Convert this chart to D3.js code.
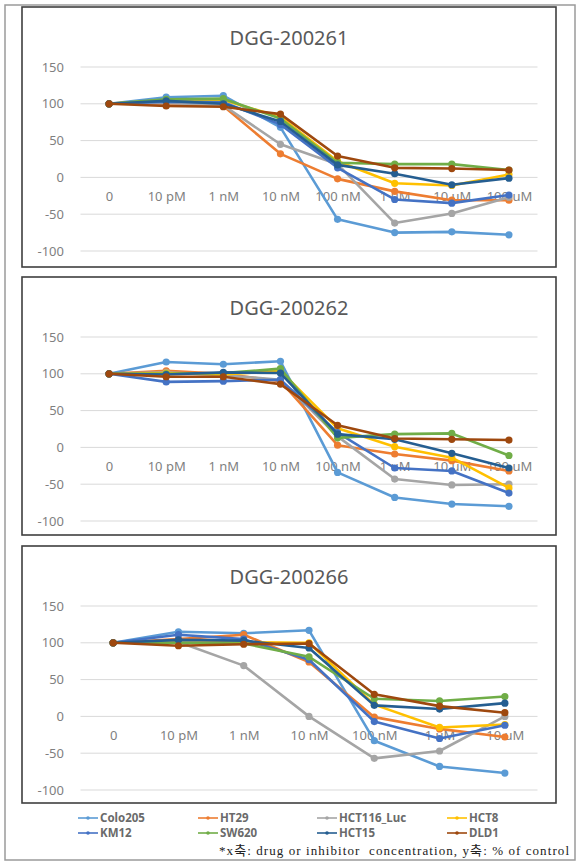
<!DOCTYPE html>
<html><head><meta charset="utf-8">
<script src="https://cdn.jsdelivr.net/npm/d3@7"></script>
<style>
html,body{margin:0;padding:0;background:#fff;}
svg{display:block;}
</style></head>
<body>
<svg id="chart" width="583" height="867"></svg>
<script>
// ---------- data ----------
const seriesNames = ["Colo205","HT29","HCT116_Luc","HCT8","KM12","SW620","HCT15","DLD1"];
const seriesColors = ["#5B9BD5","#ED7D31","#A5A5A5","#FFC000","#4472C4","#70AD47","#255E91","#9E480E"];

const catsA = ["0","10 pM","1 nM","10 nM","100 nM","1 uM","10 uM","100 uM"];
const catsB = ["0","10 pM","1 nM","10 nM","100 nM","1 uM","10 uM"];
const yTicks = [150,100,50,0,-50,-100];

const titles = ["DGG-200261","DGG-200262","DGG-200266"];

// DGG-200261
const p1Colo205   = [100,109,111,68,-57,-75,-74,-78];
const p1HT29      = [100,100,97,32,-2,-19,-31,-31];
const p1HCT116    = [100,101,98,45,18,-62,-49,-27];
const p1HCT8      = [100,105,105,82,22,-8,-11,4];
const p1KM12      = [100,103,102,72,13,-30,-35,-24];
const p1SW620     = [100,106,107,80,20,18,18,10];
const p1HCT15     = [100,104,100,76,17,5,-10,-1];
const p1DLD1      = [100,97,96,86,29,13,12,10];

// DGG-200262
const p2Colo205   = [100,116,113,117,-34,-68,-77,-80];
const p2HT29      = [100,104,100,90,3,-9,-18,-32];
const p2HCT116    = [100,102,98,92,15,-43,-51,-50];
const p2HCT8      = [100,101,99,104,26,1,-14,-55];
const p2KM12      = [100,89,90,92,20,-28,-32,-62];
const p2SW620     = [100,100,101,107,13,18,19,-11];
const p2HCT15     = [100,99,102,101,18,11,-8,-28];
const p2DLD1      = [100,96,96,86,30,12,11,10];

// DGG-200266
const p3Colo205   = [100,115,113,117,-33,-68,-77];
const p3HT29      = [100,105,111,74,-1,-17,-28];
const p3HCT116    = [100,101,69,0,-57,-47,0];
const p3HCT8      = [100,100,101,100,16,-15,-11];
const p3KM12      = [100,111,105,77,-7,-30,-12];
const p3SW620     = [100,100,99,81,24,21,27];
const p3HCT15     = [100,104,103,93,15,10,18];
const p3DLD1      = [100,96,98,99,30,14,5];

const footnote = "*x축: drug or inhibitor  concentration, y축: % of control";

// ---------- build ----------
const panels = [
  {title: titles[0], cats: catsA, values: [p1Colo205,p1HT29,p1HCT116,p1HCT8,p1KM12,p1SW620,p1HCT15,p1DLD1], top: 7,   h: 260},
  {title: titles[1], cats: catsA, values: [p2Colo205,p2HT29,p2HCT116,p2HCT8,p2KM12,p2SW620,p2HCT15,p2DLD1], top: 277, h: 258},
  {title: titles[2], cats: catsB, values: [p3Colo205,p3HT29,p3HCT116,p3HCT8,p3KM12,p3SW620,p3HCT15,p3DLD1], top: 546, h: 257}
];

const svg = d3.select("#chart");
const FONT = "'Noto Sans','Open Sans',sans-serif";

// outer frame
svg.append("rect").attr("x",5).attr("y",5).attr("width",570).attr("height",855)
  .attr("fill","#fff").attr("stroke","#9a9a9a").attr("stroke-width",1.5);

const plotL = 80.5, plotR = 537.5;

panels.forEach(p => {
  const g = svg.append("g");
  g.append("rect").attr("x",22).attr("y",p.top).attr("width",534).attr("height",p.h)
    .attr("fill","#fff").attr("stroke","#3f3f3f").attr("stroke-width",1.6);

  g.append("text").attr("x",289).attr("y",p.top+38)
    .attr("text-anchor","middle").attr("font-family",FONT).attr("font-size",20)
    .attr("fill","#595959").text(p.title);

  const y = d3.scaleLinear().domain([-100,150]).range([p.top+244, p.top+60]);
  const x = d3.scalePoint().domain(p.cats).range([plotL, plotR]).padding(0.5);

  // gridlines
  g.append("g").selectAll("line").data(yTicks).join("line")
    .attr("x1",plotL).attr("x2",plotR)
    .attr("y1",d=>y(d)).attr("y2",d=>y(d))
    .attr("stroke","#d9d9d9").attr("stroke-width",1);

  // y labels
  const yAxis = d3.axisLeft(y).tickValues(yTicks).tickSize(0).tickPadding(0).tickFormat(d => String(d));
  const ya = g.append("g").attr("transform",`translate(64,0)`).call(yAxis);
  ya.select(".domain").remove();
  ya.selectAll("text").attr("font-family",FONT).attr("font-size",13).attr("fill","#7f7f7f");

  // x labels at y=0 crossing
  const xAxis = d3.axisBottom(x).tickSize(0).tickPadding(14);
  const xa = g.append("g").attr("transform",`translate(0,${y(0)})`).call(xAxis);
  xa.select(".domain").remove();
  xa.selectAll("text").attr("font-family",FONT).attr("font-size",13).attr("fill","#7f7f7f");

  const line = d3.line().x((d,i)=>x(p.cats[i])).y(d=>y(d));
  p.values.forEach((vals, si) => {
    const c = seriesColors[si];
    g.append("path").datum(vals).attr("d",line).attr("fill","none")
      .attr("stroke",c).attr("stroke-width",2.6).attr("stroke-linejoin","round");
    g.append("g").selectAll("circle").data(vals).join("circle")
      .attr("cx",(d,i)=>x(p.cats[i])).attr("cy",d=>y(d)).attr("r",3.6).attr("fill",c);
  });
});

// legend
const legendX = [78, 198, 317, 447];
const legendY = [818, 833];
seriesNames.forEach((n, i) => {
  const col = i % 4, row = Math.floor(i / 4);
  const lx = legendX[col], ly = legendY[row];
  const lg = svg.append("g");
  lg.append("line").attr("x1",lx).attr("x2",lx+20).attr("y1",ly).attr("y2",ly)
    .attr("stroke",seriesColors[i]).attr("stroke-width",1.6);
  lg.append("circle").attr("cx",lx+10).attr("cy",ly).attr("r",1.8).attr("fill",seriesColors[i]);
  lg.append("text").attr("x",lx+22).attr("y",ly+4).attr("font-family",FONT)
    .attr("font-size",11.5).attr("font-weight","bold").attr("fill","#6a6a6a").text(n);
});

// footnote
svg.append("text").attr("x",569).attr("y",855).attr("text-anchor","end")
  .attr("font-family","'Liberation Serif','DejaVu Serif','Noto Sans CJK KR',serif")
  .attr("font-size",13).attr("fill","#222").attr("xml:space","preserve").style("white-space","pre")
  .attr("textLength",350).attr("lengthAdjust","spacing")
  .text(footnote);
</script>
</body></html>
